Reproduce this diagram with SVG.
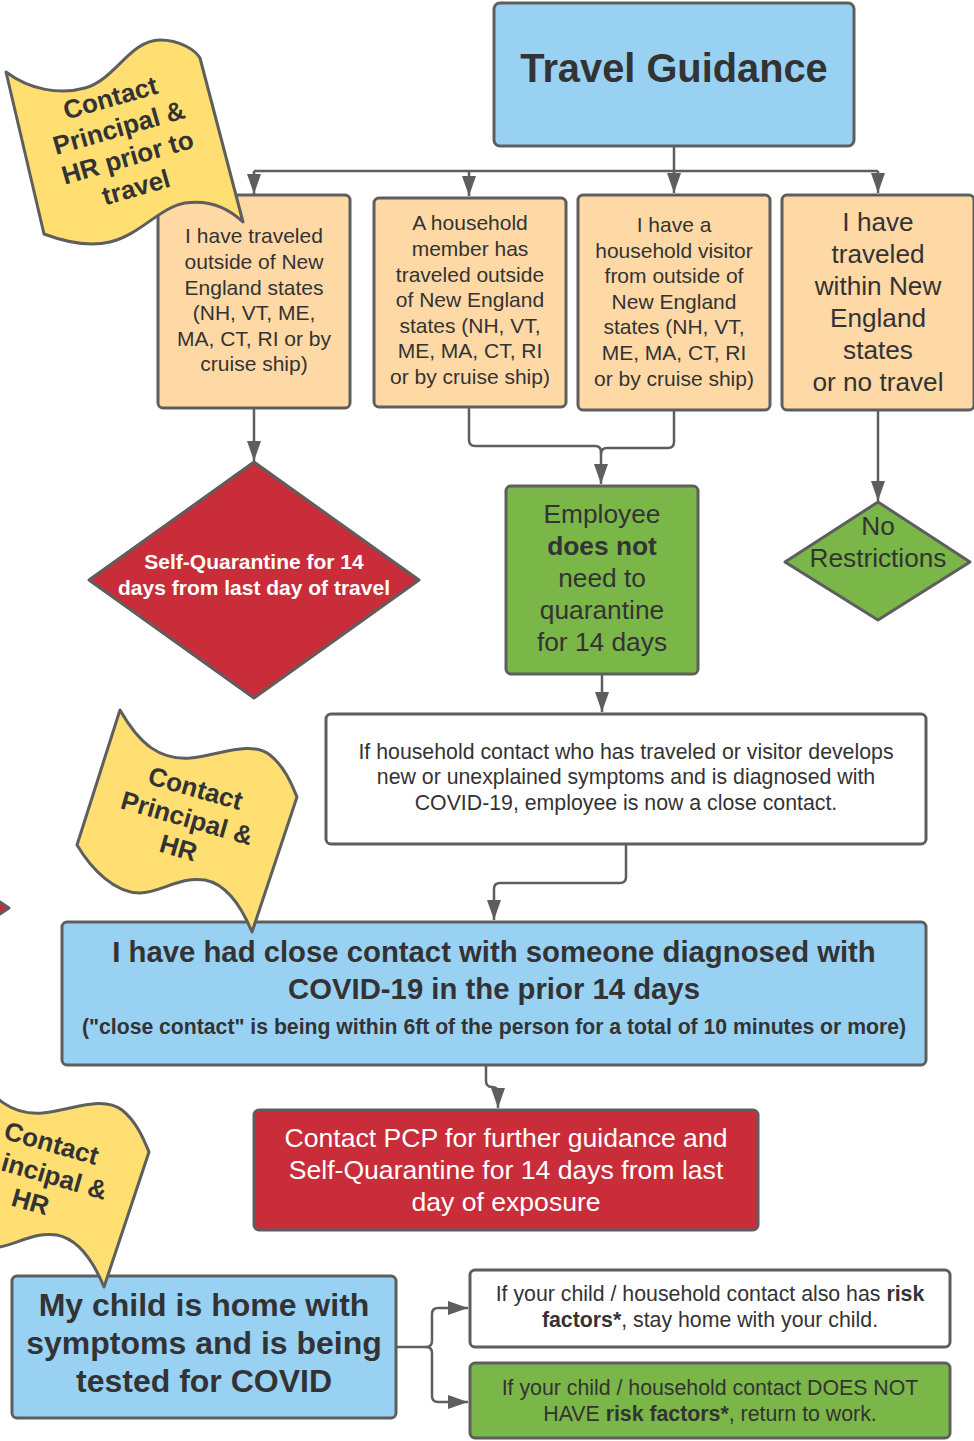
<svg xmlns="http://www.w3.org/2000/svg" width="974" height="1441" viewBox="0 0 974 1441">
<style>
.b{stroke:#5e5e5e;stroke-width:3}
.blue{fill:#99d1f3}.peach{fill:#fed9a6}.green{fill:#7ab648}.red{fill:#c92d39}.yel{fill:#ffdf71}.white{fill:#fff}
text{font-family:"Liberation Sans",Arial,sans-serif;fill:#333;text-anchor:middle}
.bold{font-weight:bold}
.w{fill:#fff}
.c{fill:none;stroke:#5e5e5e;stroke-width:2.5}
</style>
<defs>
<marker id="a" markerUnits="userSpaceOnUse" viewBox="0 0 20 14" markerWidth="20" markerHeight="14" refX="20" refY="7" orient="auto"><path d="M0,0 L20,7 L0,14 Z" fill="#5e5e5e"/></marker>
<path id="flagshape" d="M120,710 C140,745 160,760 190,758 C220,755 250,740 270,755 C285,767 292,785 297,797 L252,932 C245,915 230,885 205,880 C180,876 160,893 140,893 C115,893 92,870 77,845 Z"/>
</defs>

<g id="connectors">
<path class="c" d="M674,146 L674,171 M254,171 L878,171"/>
<path class="c" d="M254,171 L254,194" marker-end="url(#a)"/>
<path class="c" d="M469,171 L469,196" marker-end="url(#a)"/>
<path class="c" d="M674,171 L674,193" marker-end="url(#a)"/>
<path class="c" d="M878,171 L878,193" marker-end="url(#a)"/>
<path class="c" d="M254,408 L254,461" marker-end="url(#a)"/>
<path class="c" d="M469,407 L469,440 Q469,446 475,446 L595,446 Q601,446 601,452 L601,484" marker-end="url(#a)"/>
<path class="c" d="M674,410 L674,442 Q674,448 668,448 L607,448 Q601,448 601,454"/>
<path class="c" d="M878,410 L878,501" marker-end="url(#a)"/>
<path class="c" d="M602,674 L602,712" marker-end="url(#a)"/>
<path class="c" d="M626,844 L626,877 Q626,883 620,883 L500,883 Q494,883 494,889 L494,920" marker-end="url(#a)"/>
<path class="c" d="M486,1065 L486,1081 Q486,1087 492,1087 Q498,1087 498,1093 L498,1108" marker-end="url(#a)"/>
<path class="c" d="M396,1347 L426,1347 Q432,1347 432,1341 L432,1314 Q432,1308 438,1308 L468,1308" marker-end="url(#a)"/>
<path class="c" d="M426,1347 Q432,1347 432,1353 L432,1396 Q432,1402 438,1402 L468,1402" marker-end="url(#a)"/>
</g>

<g id="title">
<rect class="b blue" x="494" y="3" width="360" height="143" rx="6"/>
<text class="bold" x="674" y="82" font-size="39.8">Travel Guidance</text>
</g>

<g id="box1">
<rect class="b peach" x="158" y="195" width="192" height="213" rx="5"/>
<text font-size="21" x="254"><tspan y="243">I have traveled</tspan><tspan x="254" y="269">outside of New</tspan><tspan x="254" y="295">England states</tspan><tspan x="254" y="320">(NH, VT, ME,</tspan><tspan x="254" y="346">MA, CT, RI or by</tspan><tspan x="254" y="371">cruise ship)</tspan></text>
</g>

<g id="box2">
<rect class="b peach" x="374" y="198" width="192" height="209" rx="5"/>
<text font-size="21" x="470"><tspan y="230">A household</tspan><tspan x="470" y="256">member has</tspan><tspan x="470" y="282">traveled outside</tspan><tspan x="470" y="307">of New England</tspan><tspan x="470" y="333">states (NH, VT,</tspan><tspan x="470" y="358">ME, MA, CT, RI</tspan><tspan x="470" y="384">or by cruise ship)</tspan></text>
</g>

<g id="box3">
<rect class="b peach" x="578" y="195" width="192" height="215" rx="5"/>
<text font-size="21" x="674"><tspan y="232">I have a</tspan><tspan x="674" y="258">household visitor</tspan><tspan x="674" y="283">from outside of</tspan><tspan x="674" y="309">New England</tspan><tspan x="674" y="334">states (NH, VT,</tspan><tspan x="674" y="360">ME, MA, CT, RI</tspan><tspan x="674" y="386">or by cruise ship)</tspan></text>
</g>

<g id="box4">
<rect class="b peach" x="782" y="195" width="192" height="215" rx="5"/>
<text font-size="26.2" x="878"><tspan y="231">I have</tspan><tspan x="878" y="263">traveled</tspan><tspan x="878" y="295">within New</tspan><tspan x="878" y="327">England</tspan><tspan x="878" y="359">states</tspan><tspan x="878" y="391">or no travel</tspan></text>
</g>

<g id="selfq">
<path class="b red" d="M254,462 L419,580 L254,698 L89,580 Z" stroke-linejoin="round"/>
<text class="bold w" font-size="21" x="254"><tspan y="569">Self-Quarantine for 14</tspan><tspan x="254" y="595">days from last day of travel</tspan></text>
</g>

<g id="noquar">
<rect class="b green" x="506" y="486" width="192" height="188" rx="5"/>
<text font-size="26.3" x="602"><tspan y="523">Employee</tspan><tspan x="602" y="555" font-weight="bold">does not</tspan><tspan x="602" y="587">need to</tspan><tspan x="602" y="619">quarantine</tspan><tspan x="602" y="651">for 14 days</tspan></text>
</g>

<g id="norestr">
<path class="b green" d="M878,502 L970,562 L878,620 L785,562 Z" stroke-linejoin="round"/>
<text font-size="26.2" x="878"><tspan y="535">No</tspan><tspan x="878" y="567">Restrictions</tspan></text>
</g>

<g id="edge-diamond">
<path class="b red" d="M-60,862 L9,908 L-60,954 Z" stroke-linejoin="round"/>
</g>

<g id="household">
<rect class="b white" x="326" y="714" width="600" height="130" rx="5"/>
<text font-size="21.3" x="626"><tspan y="759">If household contact who has traveled or visitor develops</tspan><tspan x="626" y="784">new or unexplained symptoms and is diagnosed with</tspan><tspan x="626" y="810">COVID-19, employee is now a close contact.</tspan></text>
</g>

<g id="closecontact">
<rect class="b blue" x="62" y="922" width="864" height="143" rx="5"/>
<text class="bold" font-size="29.3" x="494"><tspan y="962">I have had close contact with someone diagnosed with</tspan><tspan x="494" y="999">COVID-19 in the prior 14 days</tspan></text>
<text class="bold" font-size="21.2" x="494" y="1034">("close contact" is being within 6ft of the person for a total of 10 minutes or more)</text>
</g>

<g id="pcp">
<rect class="b red" x="254" y="1110" width="504" height="120" rx="5"/>
<text class="w" font-size="26.6" x="506"><tspan y="1147">Contact PCP for further guidance and</tspan><tspan x="506" y="1179">Self-Quarantine for 14 days from last</tspan><tspan x="506" y="1211">day of exposure</tspan></text>
</g>

<g id="child">
<rect class="b blue" x="12" y="1276" width="384" height="142" rx="5"/>
<text class="bold" font-size="32" x="204"><tspan y="1316">My child is home with</tspan><tspan x="204" y="1354">symptoms and is being</tspan><tspan x="204" y="1392">tested for COVID</tspan></text>
</g>

<g id="riskyes">
<rect class="b white" x="470" y="1270" width="480" height="77" rx="5"/>
<text font-size="21.3" x="710"><tspan y="1301">If your child / household contact also has <tspan font-weight="bold">risk</tspan></tspan><tspan x="710" y="1327"><tspan font-weight="bold">factors*</tspan>, stay home with your child.</tspan></text>
</g>

<g id="riskno">
<rect class="b green" x="470" y="1363" width="480" height="75" rx="5"/>
<text font-size="21.3" x="710"><tspan y="1395">If your child / household contact DOES NOT</tspan><tspan x="710" y="1421">HAVE <tspan font-weight="bold">risk factors*</tspan>, return to work.</tspan></text>
</g>

<g id="flag1">
<path class="b yel" stroke-linejoin="round" d="M6,72 C30,90 60,95 85,88 C115,80 130,40 160,40 C180,40 195,50 200,58 L243,222 C225,205 205,200 185,203 C160,207 140,235 110,242 C85,248 60,240 44,234 Z"/>
<g transform="translate(123,142) rotate(-16)">
<text class="bold" font-size="26"><tspan x="0" y="-37">Contact</tspan><tspan x="0" y="-6">Principal &amp;</tspan><tspan x="0" y="25">HR prior to</tspan><tspan x="0" y="56">travel</tspan></text>
</g>
</g>

<g id="flag2">
<use href="#flagshape" class="b yel" stroke-linejoin="round"/>
<g transform="translate(187,818) rotate(16)">
<text class="bold" font-size="26"><tspan x="0" y="-22">Contact</tspan><tspan x="0" y="9">Principal &amp;</tspan><tspan x="0" y="40">HR</tspan></text>
</g>
</g>

<g id="flag3">
<use href="#flagshape" class="b yel" stroke-linejoin="round" transform="translate(-148,355)"/>
<g transform="translate(43,1173) rotate(16)">
<text class="bold" font-size="26"><tspan x="0" y="-22">Contact</tspan><tspan x="66" y="9" text-anchor="end">incipal &amp;</tspan><tspan x="-4" y="40">HR</tspan></text>
</g>
</g>
</svg>
